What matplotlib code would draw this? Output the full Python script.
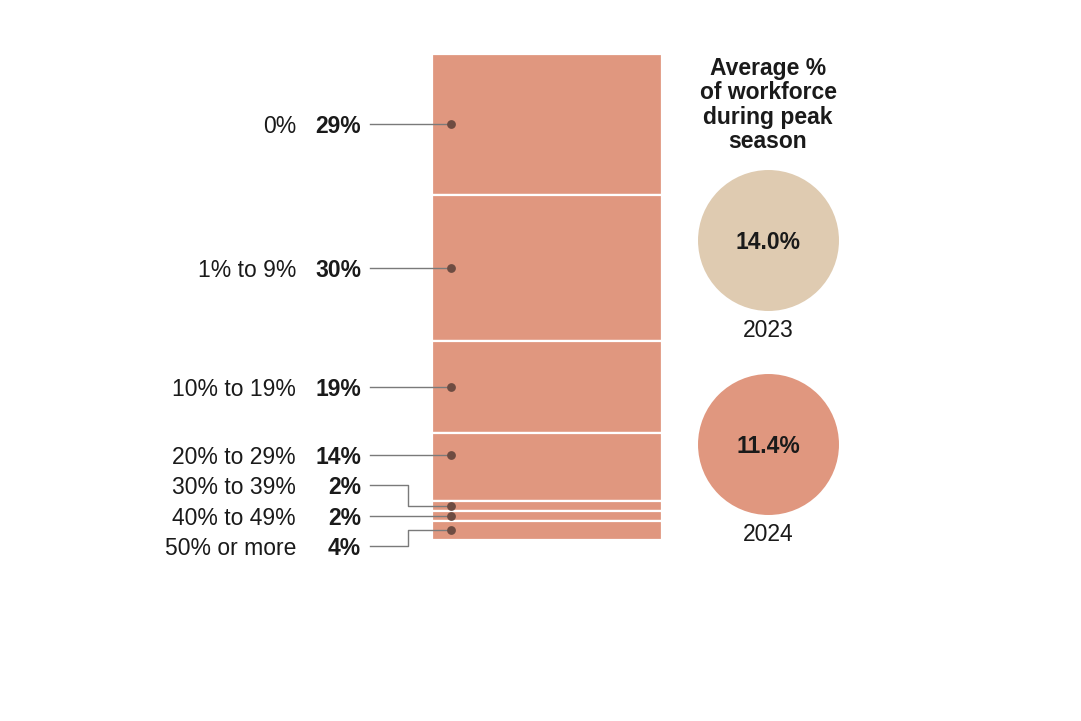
import numpy as np
import matplotlib; matplotlib.use("Agg"); import matplotlib.pyplot as plt

# share of respondents by % of workforce that is seasonal/temporary
categories = ["0%", "1% to 9%", "10% to 19%", "20% to 29%", "30% to 39%", "40% to 49%", "50% or more"]
shares = [29, 30, 19, 14, 2, 2, 4]
years = ["2023", "2024"]
avg_pct = [14.0, 11.4]

BAR = "#e0977f"
BEIGE = "#dfcbb1"
DOT = "#6e4c42"
LINE = "#7a7a7a"
TXT = "#1a1a1a"
FS = 16.5
plt.rcParams["font.family"] = ["Liberation Sans", "DejaVu Sans"]

W, H = 1081, 721
fig = plt.figure(figsize=(W / 100, H / 100), dpi=100)
ax = fig.add_axes([0, 0, 1, 1])
# x in pixels, y in percent of the stacked bar (0% at px 54, 100% at px 540)
top_px, px_per_pct = 54, 4.86
ax.set_xlim(0, W)
ax.set_ylim((H - top_px) / px_per_pct, -top_px / px_per_pct)
ax.axis("off")

def px(y):  # pixel row -> axis units
    return (y - top_px) / px_per_pct

bar_x0, bar_x1 = 432, 662
bottoms = np.concatenate([[0], np.cumsum(shares)[:-1]])
ax.bar((bar_x0 + bar_x1) / 2, shares, width=bar_x1 - bar_x0, bottom=bottoms,
       color=BAR, edgecolor="white", linewidth=1.6)
mids = bottoms + np.array(shares) / 2

# label y: midpoints for the big ones, even spacing for the crowded bottom four
spacing = 6.25
label_y = list(mids[:3]) + [mids[5] + (i - 5) * spacing for i in range(3, 7)]
dot_x, elbow_x, line_x0 = 451, 408, 370
for i, (cat, s) in enumerate(zip(categories, shares)):
    ly = label_y[i]
    ax.text(296, ly, cat, ha="right", va="center_baseline", fontsize=FS, color=TXT)
    ax.text(361, ly, f"{s}%", ha="right", va="center_baseline", fontsize=FS, color=TXT, fontweight="bold")
    lo, hi = bottoms[i], bottoms[i] + s
    if lo <= ly <= hi:
        dy = ly
        ax.plot([line_x0, dot_x], [ly, ly], color=LINE, lw=1, zorder=3)
    else:
        dy = mids[i]
        ax.plot([line_x0, elbow_x, elbow_x, dot_x], [ly, ly, dy, dy], color=LINE, lw=1, zorder=3)
    ax.scatter([dot_x], [dy], s=40, color=DOT, zorder=4, linewidths=0)

# right-hand panel: average % of workforce during peak season
cx = 768
ax.text(cx, px(57), "Average %\nof workforce\nduring peak\nseason", ha="center", va="top",
        fontsize=FS, fontweight="bold", color=TXT, linespacing=1.08)
circle_y = [px(240), px(444)]
for yr, v, cy, col in zip(years, avg_pct, circle_y, [BEIGE, BAR]):
    ax.scatter([cx], [cy], s=101.5 ** 2, color=col, linewidths=0, zorder=2)
    ax.text(cx, cy, f"{v:.1f}%", ha="center", va="center_baseline", fontsize=FS, fontweight="bold", color=TXT, zorder=3)
    ax.text(cx, cy + 88 / px_per_pct, yr, ha="center", va="center_baseline", fontsize=FS, color=TXT)

fig.savefig("out.png", dpi=100)
